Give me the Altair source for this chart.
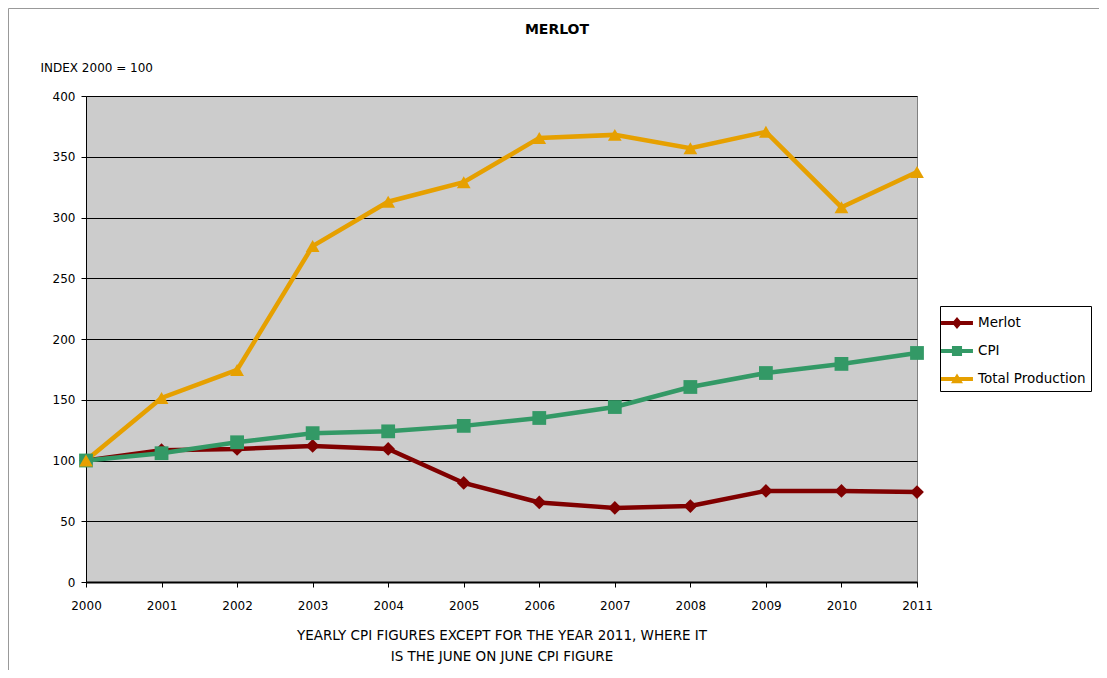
import altair as alt
import pandas as pd

years = list(range(2000, 2012))
merlot = [100, 108.5, 109.5, 112, 109.5, 81.5, 65.5, 61, 62.5, 75, 75, 74]
cpi = [100, 106, 115, 122.5, 124, 128.5, 135, 144, 160.5, 172, 179.5, 188.5]
total_production = [100, 151.5, 174.5, 276.5, 313, 329, 365.5, 368, 357, 370.5, 308.5, 337.5]

series_names = ["Merlot", "CPI", "Total Production"]
series_colors = ["#800000", "#339966", "#E6A000"]
series_shapes = ["diamond", "square", "triangle-up"]
legend_symbols = [
    "M-1.33,-0.17H1.33V0.17H-1.33Z M0,-0.5L0.42,0L0,0.5L-0.42,0Z",
    "M-1.33,-0.17H1.33V0.17H-1.33Z M-0.42,-0.42H0.42V0.42H-0.42Z",
    "M-1.33,-0.17H1.33V0.17H-1.33Z M0,-0.45L0.5,0.36H-0.5Z",
]

rows = []
for name, vals in zip(series_names, [merlot, cpi, total_production]):
    for y, v in zip(years, vals):
        rows.append({"Year": y, "Value": v, "Series": name})
df = pd.DataFrame(rows)

FONT = "DejaVu Sans"

x_enc = alt.X(
    "Year:Q",
    scale=alt.Scale(domain=[2000, 2011], nice=False, zero=False),
    axis=alt.Axis(
        values=years, format="d", grid=False, labelFontSize=12, labelColor="black",
        labelFont=FONT, labelFlush=False, labelBound=False,
        domainColor="black", domainWidth=2, tickColor="black", tickSize=5,
        labelPadding=13,
        title=["YEARLY CPI FIGURES EXCEPT FOR THE YEAR 2011, WHERE IT",
               "IS THE JUNE ON JUNE CPI FIGURE"],
        titleFont=FONT, titleFontSize=13.5, titleFontWeight="normal", titleColor="black",
        titlePadding=17, titleLineHeight=21,
    ),
)
y_enc = alt.Y(
    "Value:Q",
    scale=alt.Scale(domain=[0, 400], nice=False),
    axis=alt.Axis(
        values=list(range(0, 401, 50)), grid=True, gridColor="black", gridWidth=1,
        labelFontSize=12, labelColor="black", labelFont=FONT, domainColor="black",
        tickColor="black", tickSize=5, labelPadding=6,
        title="INDEX 2000 = 100", titleAngle=0, titleAlign="left", titleBaseline="alphabetic",
        titleX=-46, titleY=-25, titleFont=FONT, titleFontSize=12, titleFontWeight="normal",
        titleColor="black",
    ),
)

line_color = alt.Color(
    "Series:N", scale=alt.Scale(domain=series_names, range=series_colors), legend=None
)

base = alt.Chart(df)
lines = base.mark_line(strokeWidth=4.5).encode(
    x=x_enc, y=y_enc, color=line_color, detail="Series:N"
)
points = base.mark_point(filled=True, size=190, opacity=1).encode(
    x="Year:Q", y="Value:Q", color=line_color,
    shape=alt.Shape("Series:N", scale=alt.Scale(domain=series_names, range=series_shapes),
                    legend=None),
)

legend_cfg = dict(
    title=None, orient="none", legendX=854, legendY=210, labelFont=FONT,
    labelFontSize=13.5, labelColor="black", strokeColor="black", fillColor="white",
    padding=5, rowPadding=9, symbolSize=576, symbolStrokeWidth=0, labelOffset=9,
)
legend_layer = base.mark_point(filled=True, size=576, opacity=1).encode(
    x="Year:Q", y="Value:Q",
    color=alt.Color("Series:N", scale=alt.Scale(domain=series_names, range=series_colors),
                    legend=alt.Legend(**legend_cfg)),
    shape=alt.Shape("Series:N", scale=alt.Scale(domain=series_names, range=legend_symbols),
                    legend=alt.Legend(**legend_cfg)),
).transform_filter("datum.Year < 0")

title_layer = alt.Chart(pd.DataFrame({"t": ["MERLOT"]})).mark_text(
    font=FONT, fontSize=14, fontWeight="bold", color="black", baseline="middle",
    align="center", clip=False
).encode(text="t:N", x=alt.value(471), y=alt.value(-66))

frame = alt.Chart(pd.DataFrame({"a": [0]})).mark_rect(
    filled=False, stroke="#999999", strokeWidth=1, clip=False
).encode(
    x=alt.value(-77.5), x2=alt.value(1030), y=alt.value(-87.5), y2=alt.value(620)
)

chart = alt.layer(frame, title_layer, lines, points, legend_layer).resolve_scale(
    color="independent", shape="independent"
).properties(
    width=831, height=486,
    autosize=alt.AutoSizeParams(type="none"),
    padding={"left": 78, "top": 88, "right": 182, "bottom": 88},
    background="white",
).configure_view(
    fill="#CCCCCC", stroke="#808080", strokeWidth=1
)

chart.save("out.html", embed_options={"renderer": "svg", "actions": False})
